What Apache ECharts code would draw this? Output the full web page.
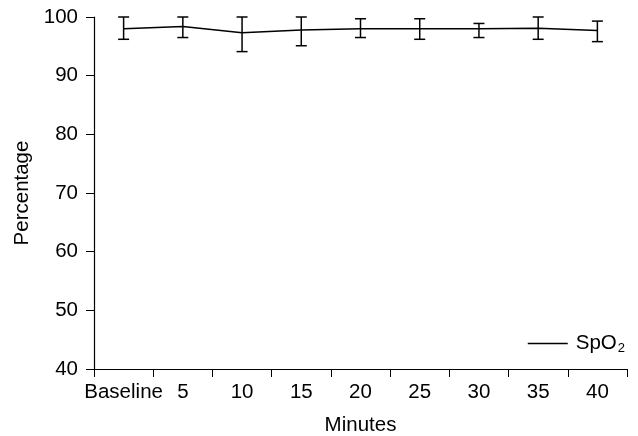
<!DOCTYPE html>
<html>
<head>
<meta charset="utf-8">
<script src="https://cdn.jsdelivr.net/npm/echarts@6/dist/echarts.min.js"></script>
<style>
  html, body { margin: 0; padding: 0; background: #fff; }
  #chart { width: 638px; height: 436px; }
</style>
</head>
<body>
<div id="chart"></div>
<script>
const categories = ['Baseline', '5', '10', '15', '20', '25', '30', '35', '40'];
const spo2Mean = [98.0, 98.4, 97.3, 97.8, 98.0, 98.0, 98.0, 98.1, 97.7];
const spo2Upper = [100, 100, 100, 100, 99.7, 99.7, 98.9, 100, 99.3];
const spo2Lower = [96.2, 96.5, 94.1, 95.1, 96.5, 96.2, 96.5, 96.2, 95.8];

const font = 'Liberation Sans, Arial, sans-serif';
const fs = 20.5;

const errorData = categories.map((c, i) => [i, spo2Lower[i], spo2Upper[i]]);

const chart = echarts.init(document.getElementById('chart'));

chart.setOption({
  animation: false,
  grid: { left: 94, right: 11, top: 17, bottom: 67, outerBoundsMode: 'none', containLabel: false },
  legend: {
    right: 13,
    top: 333,
    padding: 0,
    itemWidth: 40,
    itemHeight: 1.5,
    icon: 'rect',
    textStyle: {
      fontFamily: font,
      fontSize: fs,
      color: '#000',
      rich: {
        a: { fontSize: fs, fontFamily: font, color: '#000', padding: [0, 0, 0, 3] },
        sub: { fontSize: 13, verticalAlign: 'bottom', padding: [10, 0, 0, 1], fontFamily: font, color: '#000' }
      }
    },
    formatter: () => '{a|SpO}{sub|2}',
    data: [{ name: 'SpO2', itemStyle: { color: '#000' } }]
  },
  xAxis: {
    type: 'category',
    data: categories,
    boundaryGap: true,
    name: 'Minutes',
    nameLocation: 'middle',
    nameGap: 46,
    nameTextStyle: { fontFamily: font, fontSize: fs, color: '#000' },
    axisLine: { lineStyle: { color: '#000', width: 1.2 } },
    axisTick: { show: true, length: 8, interval: 0, lineStyle: { color: '#000' } },
    axisLabel: { fontFamily: font, fontSize: fs, color: '#000', margin: 13, interval: 0 }
  },
  yAxis: {
    type: 'value',
    min: 40,
    max: 100,
    interval: 10,
    name: 'Percentage',
    nameLocation: 'middle',
    nameGap: 59,
    nameTextStyle: { fontFamily: font, fontSize: fs, color: '#000' },
    axisLine: { show: true, lineStyle: { color: '#000', width: 1.2 } },
    axisTick: { show: true, length: 8, lineStyle: { color: '#000' } },
    axisLabel: { fontFamily: font, fontSize: fs, color: '#000', margin: 16 },
    splitLine: { show: false }
  },
  series: [
    {
      name: 'SpO2',
      type: 'line',
      data: spo2Mean,
      symbol: 'none',
      lineStyle: { color: '#000', width: 1.5 },
      itemStyle: { color: '#000' },
      z: 3
    },
    {
      name: 'error',
      type: 'custom',
      data: errorData,
      z: 4,
      renderItem: (params, api) => {
        const x = api.value(0);
        const lo = api.coord([x, api.value(1)]);
        const hi = api.coord([x, api.value(2)]);
        const half = 5.5;
        const style = { stroke: '#000', lineWidth: 1.5 };
        return {
          type: 'group',
          children: [
            { type: 'line', shape: { x1: hi[0], y1: hi[1], x2: lo[0], y2: lo[1] }, style },
            { type: 'line', shape: { x1: hi[0] - half, y1: hi[1], x2: hi[0] + half, y2: hi[1] }, style },
            { type: 'line', shape: { x1: lo[0] - half, y1: lo[1], x2: lo[0] + half, y2: lo[1] }, style }
          ]
        };
      }
    }
  ]
});
</script>
</body>
</html>
